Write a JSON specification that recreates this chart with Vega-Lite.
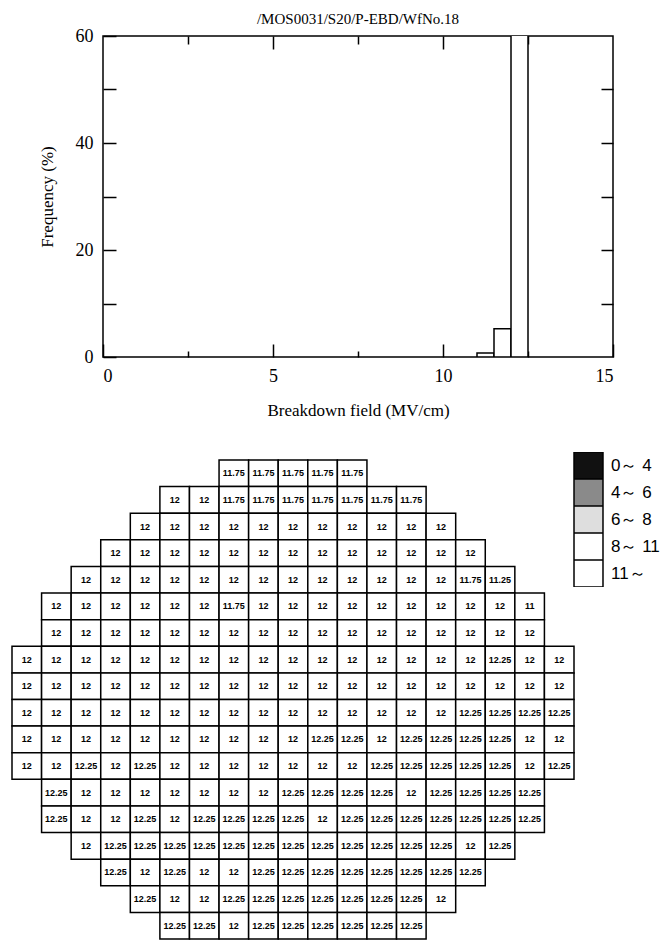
{
  "$schema": "https://vega.github.io/schema/vega-lite/v6.json",
  "background": "white",
  "padding": {"left": 11, "top": 11, "right": 0, "bottom": 0},
  "autosize": {"type": "pad"},
  "spacing": 33,
  "resolve": {"legend": {"color": "independent"}, "scale": {"color": "independent"}},
  "datasets": {
    "hist": [
      {"bin_start": 11, "bin_end": 11.5, "pct": 0.76},
      {"bin_start": 11.5, "bin_end": 12, "pct": 5.3},
      {"bin_start": 12, "bin_end": 12.5, "pct": 93.94}
    ],
    "wafer": [
      {"r":0,"c":7,"v":11.75,"k":"11～"},{"r":0,"c":8,"v":11.75,"k":"11～"},{"r":0,"c":9,"v":11.75,"k":"11～"},{"r":0,"c":10,"v":11.75,"k":"11～"},{"r":0,"c":11,"v":11.75,"k":"11～"},
      {"r":1,"c":5,"v":12,"k":"11～"},{"r":1,"c":6,"v":12,"k":"11～"},{"r":1,"c":7,"v":11.75,"k":"11～"},{"r":1,"c":8,"v":11.75,"k":"11～"},{"r":1,"c":9,"v":11.75,"k":"11～"},{"r":1,"c":10,"v":11.75,"k":"11～"},{"r":1,"c":11,"v":11.75,"k":"11～"},{"r":1,"c":12,"v":11.75,"k":"11～"},{"r":1,"c":13,"v":11.75,"k":"11～"},
      {"r":2,"c":4,"v":12,"k":"11～"},{"r":2,"c":5,"v":12,"k":"11～"},{"r":2,"c":6,"v":12,"k":"11～"},{"r":2,"c":7,"v":12,"k":"11～"},{"r":2,"c":8,"v":12,"k":"11～"},{"r":2,"c":9,"v":12,"k":"11～"},{"r":2,"c":10,"v":12,"k":"11～"},{"r":2,"c":11,"v":12,"k":"11～"},{"r":2,"c":12,"v":12,"k":"11～"},{"r":2,"c":13,"v":12,"k":"11～"},{"r":2,"c":14,"v":12,"k":"11～"},
      {"r":3,"c":3,"v":12,"k":"11～"},{"r":3,"c":4,"v":12,"k":"11～"},{"r":3,"c":5,"v":12,"k":"11～"},{"r":3,"c":6,"v":12,"k":"11～"},{"r":3,"c":7,"v":12,"k":"11～"},{"r":3,"c":8,"v":12,"k":"11～"},{"r":3,"c":9,"v":12,"k":"11～"},{"r":3,"c":10,"v":12,"k":"11～"},{"r":3,"c":11,"v":12,"k":"11～"},{"r":3,"c":12,"v":12,"k":"11～"},{"r":3,"c":13,"v":12,"k":"11～"},{"r":3,"c":14,"v":12,"k":"11～"},{"r":3,"c":15,"v":12,"k":"11～"},
      {"r":4,"c":2,"v":12,"k":"11～"},{"r":4,"c":3,"v":12,"k":"11～"},{"r":4,"c":4,"v":12,"k":"11～"},{"r":4,"c":5,"v":12,"k":"11～"},{"r":4,"c":6,"v":12,"k":"11～"},{"r":4,"c":7,"v":12,"k":"11～"},{"r":4,"c":8,"v":12,"k":"11～"},{"r":4,"c":9,"v":12,"k":"11～"},{"r":4,"c":10,"v":12,"k":"11～"},{"r":4,"c":11,"v":12,"k":"11～"},{"r":4,"c":12,"v":12,"k":"11～"},{"r":4,"c":13,"v":12,"k":"11～"},{"r":4,"c":14,"v":12,"k":"11～"},{"r":4,"c":15,"v":11.75,"k":"11～"},{"r":4,"c":16,"v":11.25,"k":"11～"},
      {"r":5,"c":1,"v":12,"k":"11～"},{"r":5,"c":2,"v":12,"k":"11～"},{"r":5,"c":3,"v":12,"k":"11～"},{"r":5,"c":4,"v":12,"k":"11～"},{"r":5,"c":5,"v":12,"k":"11～"},{"r":5,"c":6,"v":12,"k":"11～"},{"r":5,"c":7,"v":11.75,"k":"11～"},{"r":5,"c":8,"v":12,"k":"11～"},{"r":5,"c":9,"v":12,"k":"11～"},{"r":5,"c":10,"v":12,"k":"11～"},{"r":5,"c":11,"v":12,"k":"11～"},{"r":5,"c":12,"v":12,"k":"11～"},{"r":5,"c":13,"v":12,"k":"11～"},{"r":5,"c":14,"v":12,"k":"11～"},{"r":5,"c":15,"v":12,"k":"11～"},{"r":5,"c":16,"v":12,"k":"11～"},{"r":5,"c":17,"v":11,"k":"11～"},
      {"r":6,"c":1,"v":12,"k":"11～"},{"r":6,"c":2,"v":12,"k":"11～"},{"r":6,"c":3,"v":12,"k":"11～"},{"r":6,"c":4,"v":12,"k":"11～"},{"r":6,"c":5,"v":12,"k":"11～"},{"r":6,"c":6,"v":12,"k":"11～"},{"r":6,"c":7,"v":12,"k":"11～"},{"r":6,"c":8,"v":12,"k":"11～"},{"r":6,"c":9,"v":12,"k":"11～"},{"r":6,"c":10,"v":12,"k":"11～"},{"r":6,"c":11,"v":12,"k":"11～"},{"r":6,"c":12,"v":12,"k":"11～"},{"r":6,"c":13,"v":12,"k":"11～"},{"r":6,"c":14,"v":12,"k":"11～"},{"r":6,"c":15,"v":12,"k":"11～"},{"r":6,"c":16,"v":12,"k":"11～"},{"r":6,"c":17,"v":12,"k":"11～"},
      {"r":7,"c":0,"v":12,"k":"11～"},{"r":7,"c":1,"v":12,"k":"11～"},{"r":7,"c":2,"v":12,"k":"11～"},{"r":7,"c":3,"v":12,"k":"11～"},{"r":7,"c":4,"v":12,"k":"11～"},{"r":7,"c":5,"v":12,"k":"11～"},{"r":7,"c":6,"v":12,"k":"11～"},{"r":7,"c":7,"v":12,"k":"11～"},{"r":7,"c":8,"v":12,"k":"11～"},{"r":7,"c":9,"v":12,"k":"11～"},{"r":7,"c":10,"v":12,"k":"11～"},{"r":7,"c":11,"v":12,"k":"11～"},{"r":7,"c":12,"v":12,"k":"11～"},{"r":7,"c":13,"v":12,"k":"11～"},{"r":7,"c":14,"v":12,"k":"11～"},{"r":7,"c":15,"v":12,"k":"11～"},{"r":7,"c":16,"v":12.25,"k":"11～"},{"r":7,"c":17,"v":12,"k":"11～"},{"r":7,"c":18,"v":12,"k":"11～"},
      {"r":8,"c":0,"v":12,"k":"11～"},{"r":8,"c":1,"v":12,"k":"11～"},{"r":8,"c":2,"v":12,"k":"11～"},{"r":8,"c":3,"v":12,"k":"11～"},{"r":8,"c":4,"v":12,"k":"11～"},{"r":8,"c":5,"v":12,"k":"11～"},{"r":8,"c":6,"v":12,"k":"11～"},{"r":8,"c":7,"v":12,"k":"11～"},{"r":8,"c":8,"v":12,"k":"11～"},{"r":8,"c":9,"v":12,"k":"11～"},{"r":8,"c":10,"v":12,"k":"11～"},{"r":8,"c":11,"v":12,"k":"11～"},{"r":8,"c":12,"v":12,"k":"11～"},{"r":8,"c":13,"v":12,"k":"11～"},{"r":8,"c":14,"v":12,"k":"11～"},{"r":8,"c":15,"v":12,"k":"11～"},{"r":8,"c":16,"v":12,"k":"11～"},{"r":8,"c":17,"v":12,"k":"11～"},{"r":8,"c":18,"v":12,"k":"11～"},
      {"r":9,"c":0,"v":12,"k":"11～"},{"r":9,"c":1,"v":12,"k":"11～"},{"r":9,"c":2,"v":12,"k":"11～"},{"r":9,"c":3,"v":12,"k":"11～"},{"r":9,"c":4,"v":12,"k":"11～"},{"r":9,"c":5,"v":12,"k":"11～"},{"r":9,"c":6,"v":12,"k":"11～"},{"r":9,"c":7,"v":12,"k":"11～"},{"r":9,"c":8,"v":12,"k":"11～"},{"r":9,"c":9,"v":12,"k":"11～"},{"r":9,"c":10,"v":12,"k":"11～"},{"r":9,"c":11,"v":12,"k":"11～"},{"r":9,"c":12,"v":12,"k":"11～"},{"r":9,"c":13,"v":12,"k":"11～"},{"r":9,"c":14,"v":12,"k":"11～"},{"r":9,"c":15,"v":12.25,"k":"11～"},{"r":9,"c":16,"v":12.25,"k":"11～"},{"r":9,"c":17,"v":12.25,"k":"11～"},{"r":9,"c":18,"v":12.25,"k":"11～"},
      {"r":10,"c":0,"v":12,"k":"11～"},{"r":10,"c":1,"v":12,"k":"11～"},{"r":10,"c":2,"v":12,"k":"11～"},{"r":10,"c":3,"v":12,"k":"11～"},{"r":10,"c":4,"v":12,"k":"11～"},{"r":10,"c":5,"v":12,"k":"11～"},{"r":10,"c":6,"v":12,"k":"11～"},{"r":10,"c":7,"v":12,"k":"11～"},{"r":10,"c":8,"v":12,"k":"11～"},{"r":10,"c":9,"v":12,"k":"11～"},{"r":10,"c":10,"v":12.25,"k":"11～"},{"r":10,"c":11,"v":12.25,"k":"11～"},{"r":10,"c":12,"v":12,"k":"11～"},{"r":10,"c":13,"v":12.25,"k":"11～"},{"r":10,"c":14,"v":12.25,"k":"11～"},{"r":10,"c":15,"v":12.25,"k":"11～"},{"r":10,"c":16,"v":12.25,"k":"11～"},{"r":10,"c":17,"v":12,"k":"11～"},{"r":10,"c":18,"v":12,"k":"11～"},
      {"r":11,"c":0,"v":12,"k":"11～"},{"r":11,"c":1,"v":12,"k":"11～"},{"r":11,"c":2,"v":12.25,"k":"11～"},{"r":11,"c":3,"v":12,"k":"11～"},{"r":11,"c":4,"v":12.25,"k":"11～"},{"r":11,"c":5,"v":12,"k":"11～"},{"r":11,"c":6,"v":12,"k":"11～"},{"r":11,"c":7,"v":12,"k":"11～"},{"r":11,"c":8,"v":12,"k":"11～"},{"r":11,"c":9,"v":12,"k":"11～"},{"r":11,"c":10,"v":12,"k":"11～"},{"r":11,"c":11,"v":12,"k":"11～"},{"r":11,"c":12,"v":12.25,"k":"11～"},{"r":11,"c":13,"v":12.25,"k":"11～"},{"r":11,"c":14,"v":12.25,"k":"11～"},{"r":11,"c":15,"v":12.25,"k":"11～"},{"r":11,"c":16,"v":12.25,"k":"11～"},{"r":11,"c":17,"v":12,"k":"11～"},{"r":11,"c":18,"v":12.25,"k":"11～"},
      {"r":12,"c":1,"v":12.25,"k":"11～"},{"r":12,"c":2,"v":12,"k":"11～"},{"r":12,"c":3,"v":12,"k":"11～"},{"r":12,"c":4,"v":12,"k":"11～"},{"r":12,"c":5,"v":12,"k":"11～"},{"r":12,"c":6,"v":12,"k":"11～"},{"r":12,"c":7,"v":12,"k":"11～"},{"r":12,"c":8,"v":12,"k":"11～"},{"r":12,"c":9,"v":12.25,"k":"11～"},{"r":12,"c":10,"v":12.25,"k":"11～"},{"r":12,"c":11,"v":12.25,"k":"11～"},{"r":12,"c":12,"v":12.25,"k":"11～"},{"r":12,"c":13,"v":12,"k":"11～"},{"r":12,"c":14,"v":12.25,"k":"11～"},{"r":12,"c":15,"v":12.25,"k":"11～"},{"r":12,"c":16,"v":12.25,"k":"11～"},{"r":12,"c":17,"v":12.25,"k":"11～"},
      {"r":13,"c":1,"v":12.25,"k":"11～"},{"r":13,"c":2,"v":12,"k":"11～"},{"r":13,"c":3,"v":12,"k":"11～"},{"r":13,"c":4,"v":12.25,"k":"11～"},{"r":13,"c":5,"v":12,"k":"11～"},{"r":13,"c":6,"v":12.25,"k":"11～"},{"r":13,"c":7,"v":12.25,"k":"11～"},{"r":13,"c":8,"v":12.25,"k":"11～"},{"r":13,"c":9,"v":12.25,"k":"11～"},{"r":13,"c":10,"v":12,"k":"11～"},{"r":13,"c":11,"v":12.25,"k":"11～"},{"r":13,"c":12,"v":12.25,"k":"11～"},{"r":13,"c":13,"v":12.25,"k":"11～"},{"r":13,"c":14,"v":12.25,"k":"11～"},{"r":13,"c":15,"v":12.25,"k":"11～"},{"r":13,"c":16,"v":12.25,"k":"11～"},{"r":13,"c":17,"v":12.25,"k":"11～"},
      {"r":14,"c":2,"v":12,"k":"11～"},{"r":14,"c":3,"v":12.25,"k":"11～"},{"r":14,"c":4,"v":12.25,"k":"11～"},{"r":14,"c":5,"v":12.25,"k":"11～"},{"r":14,"c":6,"v":12.25,"k":"11～"},{"r":14,"c":7,"v":12.25,"k":"11～"},{"r":14,"c":8,"v":12.25,"k":"11～"},{"r":14,"c":9,"v":12.25,"k":"11～"},{"r":14,"c":10,"v":12.25,"k":"11～"},{"r":14,"c":11,"v":12.25,"k":"11～"},{"r":14,"c":12,"v":12.25,"k":"11～"},{"r":14,"c":13,"v":12.25,"k":"11～"},{"r":14,"c":14,"v":12.25,"k":"11～"},{"r":14,"c":15,"v":12,"k":"11～"},{"r":14,"c":16,"v":12.25,"k":"11～"},
      {"r":15,"c":3,"v":12.25,"k":"11～"},{"r":15,"c":4,"v":12,"k":"11～"},{"r":15,"c":5,"v":12.25,"k":"11～"},{"r":15,"c":6,"v":12,"k":"11～"},{"r":15,"c":7,"v":12,"k":"11～"},{"r":15,"c":8,"v":12.25,"k":"11～"},{"r":15,"c":9,"v":12.25,"k":"11～"},{"r":15,"c":10,"v":12.25,"k":"11～"},{"r":15,"c":11,"v":12.25,"k":"11～"},{"r":15,"c":12,"v":12.25,"k":"11～"},{"r":15,"c":13,"v":12.25,"k":"11～"},{"r":15,"c":14,"v":12.25,"k":"11～"},{"r":15,"c":15,"v":12.25,"k":"11～"},
      {"r":16,"c":4,"v":12.25,"k":"11～"},{"r":16,"c":5,"v":12,"k":"11～"},{"r":16,"c":6,"v":12,"k":"11～"},{"r":16,"c":7,"v":12.25,"k":"11～"},{"r":16,"c":8,"v":12.25,"k":"11～"},{"r":16,"c":9,"v":12.25,"k":"11～"},{"r":16,"c":10,"v":12.25,"k":"11～"},{"r":16,"c":11,"v":12.25,"k":"11～"},{"r":16,"c":12,"v":12.25,"k":"11～"},{"r":16,"c":13,"v":12.25,"k":"11～"},{"r":16,"c":14,"v":12,"k":"11～"},
      {"r":17,"c":5,"v":12.25,"k":"11～"},{"r":17,"c":6,"v":12.25,"k":"11～"},{"r":17,"c":7,"v":12,"k":"11～"},{"r":17,"c":8,"v":12.25,"k":"11～"},{"r":17,"c":9,"v":12.25,"k":"11～"},{"r":17,"c":10,"v":12.25,"k":"11～"},{"r":17,"c":11,"v":12.25,"k":"11～"},{"r":17,"c":12,"v":12.25,"k":"11～"},{"r":17,"c":13,"v":12.25,"k":"11～"}
    ]
  },
  "vconcat": [
    {
      "bounds": "flush",
      "spacing": 0,
      "hconcat": [
        {
          "width": 91,
          "height": 321,
          "data": {"values": []},
          "mark": {"type": "rect"},
          "encoding": {}
        },
        {
          "width": 510,
          "height": 321,
          "title": {"text": "/MOS0031/S20/P-EBD/WfNo.18", "font": "Liberation Serif", "fontSize": 15, "fontWeight": "normal", "color": "black", "offset": 0, "anchor": "middle"},
          "view": {"stroke": "black", "strokeWidth": 1.5},
          "data": {"name": "hist"},
          "layer": [
            {
              "mark": {"type": "rect", "fill": "white", "stroke": "black", "strokeWidth": 1.5, "clip": true},
              "encoding": {
                "x": {"field": "bin_start", "type": "quantitative", "scale": {"domain": [0, 15], "nice": false, "zero": false},
                      "axis": {"orient": "bottom", "values": [0, 5, 10, 15], "format": "d", "tickSize": -13, "labelPadding": 23, "title": "Breakdown field (MV/cm)", "titlePadding": 17}},
                "x2": {"field": "bin_end"},
                "y": {"field": "pct", "type": "quantitative", "scale": {"domain": [0, 60], "nice": false},
                      "axis": {"orient": "left", "values": [0, 10, 20, 30, 40, 50, 60], "labelExpr": "datum.value % 20 === 0 ? datum.label : ''", "tickSize": -13, "labelPadding": 23, "title": "Frequency (%)", "titlePadding": 19}},
                "y2": {"datum": 0}
              }
            },
            {
              "mark": {"type": "rect", "opacity": 0, "clip": true},
              "encoding": {
                "x": {"field": "bin_start", "type": "quantitative", "axis": {"orient": "top", "values": [5, 10], "tickSize": -13, "labels": false, "title": null}},
                "x2": {"field": "bin_end"},
                "y": {"field": "pct", "type": "quantitative", "axis": {"orient": "right", "values": [10, 20, 30, 40, 50], "tickSize": -12, "labels": false, "title": null}},
                "y2": {"datum": 0}
              }
            },
            {
              "mark": {"type": "rect", "opacity": 0, "clip": true},
              "encoding": {
                "x": {"field": "bin_start", "type": "quantitative", "axis": {"orient": "bottom", "values": [2.5, 7.5, 12.5], "tickSize": -6, "labels": false, "title": null}},
                "x2": {"field": "bin_end"},
                "y": {"field": "pct", "type": "quantitative", "axis": null},
                "y2": {"datum": 0}
              }
            },
            {
              "mark": {"type": "rect", "opacity": 0, "clip": true},
              "encoding": {
                "x": {"field": "bin_start", "type": "quantitative", "axis": {"orient": "top", "values": [2.5, 7.5, 12.5], "tickSize": -8, "labels": false, "title": null}},
                "x2": {"field": "bin_end"},
                "y": {"field": "pct", "type": "quantitative", "axis": null},
                "y2": {"datum": 0}
              }
            }
          ],
          "resolve": {"axis": {"x": "independent", "y": "independent"}}
        }
      ]
    },
    {
      "width": 562,
      "height": 479,
      "data": {"name": "wafer"},
      "encoding": {
        "x": {"field": "c", "type": "ordinal", "axis": null, "scale": {"domain": [0,1,2,3,4,5,6,7,8,9,10,11,12,13,14,15,16,17,18], "paddingInner": 0, "paddingOuter": 0}},
        "y": {"field": "r", "type": "ordinal", "axis": null, "scale": {"domain": [0,1,2,3,4,5,6,7,8,9,10,11,12,13,14,15,16,17], "paddingInner": 0, "paddingOuter": 0}}
      },
      "layer": [
        {
          "mark": {"type": "rect", "stroke": "black", "strokeWidth": 1.5},
          "encoding": {
            "color": {"field": "k", "type": "nominal",
                      "scale": {"domain": ["0～ 4", "4～ 6", "6～ 8", "8～ 11", "11～"], "range": ["#111111", "#8a8a8a", "#dedede", "#ffffff", "#ffffff"]},
                      "legend": {"orient": "none", "legendX": 561, "legendY": -8, "title": null, "symbolType": "M-1.234,-1.149H1.234V1.149H-1.234Z", "symbolSize": 552, "symbolOffset": 3, "symbolStrokeColor": "black", "symbolStrokeWidth": 1.5, "symbolOpacity": 1, "clipHeight": 27, "rowPadding": 0, "padding": 0, "labelFont": "Liberation Sans", "labelFontSize": 17, "labelColor": "black", "labelOffset": 10}}
          }
        },
        {
          "mark": {"type": "text", "font": "Liberation Sans", "fontWeight": "bold", "fontSize": 9, "color": "black", "baseline": "middle", "align": "center"},
          "encoding": {"text": {"field": "v", "type": "nominal"}}
        }
      ]
    }
  ],
  "config": {
    "view": {"stroke": null},
    "axis": {"labelFont": "Liberation Serif", "labelFontSize": 18, "labelColor": "black", "titleFont": "Liberation Serif", "titleFontSize": 17, "titleFontWeight": "normal", "titleColor": "black", "tickColor": "black", "tickWidth": 1.5, "domain": false, "grid": false}
  }
}
